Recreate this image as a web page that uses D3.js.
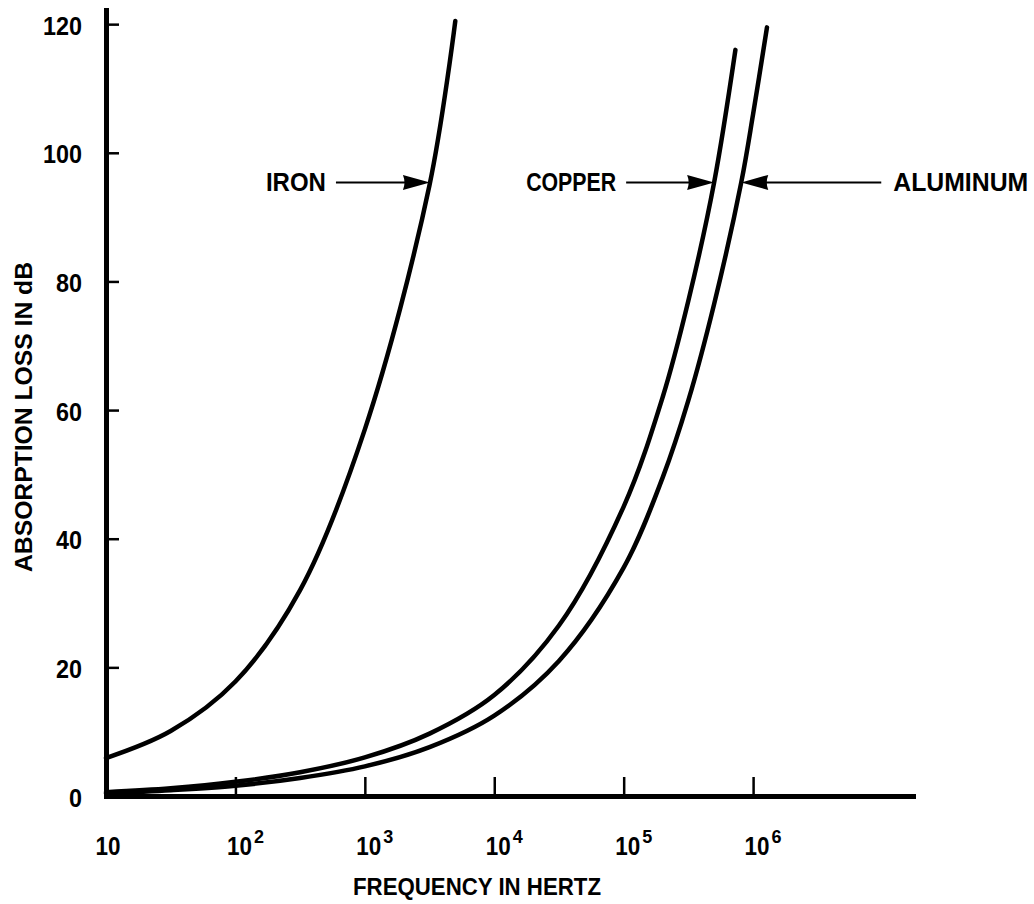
<!DOCTYPE html>
<html>
<head>
<meta charset="utf-8">
<script src="https://cdn.jsdelivr.net/npm/d3@7"></script>
<style>
body { margin: 0; background: #fff; }
text { font-family: "Liberation Sans", Arial, sans-serif; font-weight: bold; fill: #000; }
</style>
</head>
<body>
<div id="chart"></div>
<script>
// absorption loss (dB)
var ironFreq = [10, 31.6, 100, 316, 1000, 3162, 5000];
var ironLoss = [5.9, 10.1, 17.8, 32, 57, 95, 120.5];
var copperFreq = [10, 31.6, 100, 316, 1000, 3162, 1e4, 3.16e4, 1e5, 2e5, 3.16e5, 5e5, 7.3e5];
var copperLoss = [0.6, 1.2, 2.2, 3.7, 6.0, 9.7, 15.7, 26.5, 45, 62, 77, 95.4, 116];
var aluminumFreq = [10, 31.6, 100, 316, 1000, 3162, 1e4, 3.16e4, 1e5, 2e5, 3.16e5, 5e5, 8.1e5, 1e6, 1.28e6];
var aluminumLoss = [0.4, 0.9, 1.6, 2.8, 4.6, 7.6, 12.5, 21, 35.5, 49.5, 61.5, 76.5, 95.4, 106, 119.5];

var xTicks = [10, 1e2, 1e3, 1e4, 1e5, 1e6];
var xTickExp = ["", "2", "3", "4", "5", "6"];
var yTicks = [0, 20, 40, 60, 80, 100, 120];

var labels = ["IRON", "COPPER", "ALUMINUM"];
var labelLevel = 95.4;

var margin = { top: 10, right: 121, bottom: 108, left: 106 },
    width = 1034 - margin.left - margin.right,
    height = 904 - margin.top - margin.bottom;

var svg = d3
    .select("#chart")
    .append("svg")
    .attr("width", 1034)
    .attr("height", 904)
    .style("background", "#fff");

var g = svg
    .append("g")
    .attr("transform", "translate(" + margin.left + "," + margin.top + ")");

var x = d3.scaleLog().domain([10, 1.72e7]).range([0, width]);
var y = d3.scaleLinear().domain([0, 122.2]).range([height, 0]);

// y axis, ticks pointing inward
var yAxis = g.append("g").call(
    d3.axisLeft(y).tickValues(yTicks).tickSize(-13).tickSizeOuter(0).tickPadding(24)
);
yAxis.attr("font-family", null).attr("font-size", null);
yAxis.select(".domain").attr("stroke", "#000").attr("stroke-width", 5).attr("stroke-linecap", "square");
yAxis.selectAll(".tick line").attr("stroke", "#000").attr("stroke-width", 2.5);
yAxis
    .selectAll(".tick text")
    .attr("font-size", 25)
    .attr("dy", 10)
    .attr("textLength", function (d) { return String(d).length * 13; })
    .attr("lengthAdjust", "spacingAndGlyphs");

// x axis
var xAxis = g
    .append("g")
    .attr("transform", "translate(0," + height + ")")
    .call(d3.axisBottom(x).tickValues(xTicks).tickSize(-19).tickSizeOuter(0).tickFormat(""));
xAxis.attr("font-family", null).attr("font-size", null).attr("text-anchor", "start");
xAxis.select(".domain").attr("stroke", "#000").attr("stroke-width", 5).attr("stroke-linecap", "square");
xAxis.selectAll(".tick line").attr("stroke", "#000").attr("stroke-width", 2.5);
xAxis.selectAll(".tick text").remove();
xAxis.selectAll(".tick").each(function (d, i) {
    var t = d3
        .select(this)
        .append("text")
        .attr("text-anchor", "start")
        .attr("x", i === 0 ? -11 : -9)
        .attr("y", 59)
        .attr("font-size", 25);
    t.append("tspan").attr("textLength", 25).attr("lengthAdjust", "spacingAndGlyphs").text("10");
    if (xTickExp[i]) {
        t.append("tspan").attr("dy", -12).attr("dx", 2).attr("font-size", 18).text(xTickExp[i]);
    }
});

// curves
var line = d3
    .line()
    .x(function (d) { return x(d[0]); })
    .y(function (d) { return y(d[1]); })
    .curve(d3.curveCatmullRom.alpha(0.5));

var series = [
    [ironFreq, ironLoss],
    [copperFreq, copperLoss],
    [aluminumFreq, aluminumLoss],
];

series.forEach(function (s) {
    g.append("path")
        .datum(d3.zip(s[0], s[1]))
        .attr("fill", "none")
        .attr("stroke", "#000")
        .attr("stroke-width", 4.5)
        .attr("stroke-linecap", "round")
        .attr("d", line);
});

// frequency where a curve reaches a given loss
function crossFreq(freqs, losses, level) {
    for (var i = 0; i < losses.length - 1; i++) {
        if (losses[i] <= level && level <= losses[i + 1]) {
            var t = (level - losses[i]) / (losses[i + 1] - losses[i]);
            var lf = Math.log10(freqs[i]) + t * (Math.log10(freqs[i + 1]) - Math.log10(freqs[i]));
            return Math.pow(10, lf);
        }
    }
    return freqs[freqs.length - 1];
}

// arrow annotations
var arrowSide = [-1, -1, 1];
var arrowLen = [94, 88, 140];
var labelWidth = [60, 90, 135];
labels.forEach(function (lab, i) {
    var fx = crossFreq(series[i][0], series[i][1], labelLevel);
    var tx = x(fx),
        ty = y(labelLevel);
    var dir = arrowSide[i];
    var endX = tx + dir * arrowLen[i];

    g.append("line")
        .attr("x1", endX)
        .attr("x2", tx + dir * 20)
        .attr("y1", ty)
        .attr("y2", ty)
        .attr("stroke", "#000")
        .attr("stroke-width", 2);

    g.append("path")
        .attr(
            "d",
            "M" + tx + "," + ty +
            "L" + (tx + dir * 27) + "," + (ty - 7.5) +
            "Q" + (tx + dir * 24) + "," + ty + " " + (tx + dir * 27) + "," + (ty + 7.5) + "Z"
        )
        .attr("fill", "#000");

    g.append("text")
        .attr("x", dir < 0 ? endX - 10 - labelWidth[i] : endX + 12)
        .attr("y", ty + 9)
        .attr("font-size", 25)
        .attr("textLength", labelWidth[i])
        .attr("lengthAdjust", "spacingAndGlyphs")
        .text(lab);
});

// axis titles
svg.append("text")
    .attr("x", 353)
    .attr("y", 895)
    .attr("font-size", 24)
    .attr("textLength", 248)
    .attr("lengthAdjust", "spacingAndGlyphs")
    .text("FREQUENCY IN HERTZ");

svg.append("text")
    .attr("transform", "translate(32,417) rotate(-90)")
    .attr("text-anchor", "middle")
    .attr("font-size", 23)
    .attr("textLength", 310)
    .attr("lengthAdjust", "spacingAndGlyphs")
    .text("ABSORPTION LOSS IN dB");
</script>
</body>
</html>
